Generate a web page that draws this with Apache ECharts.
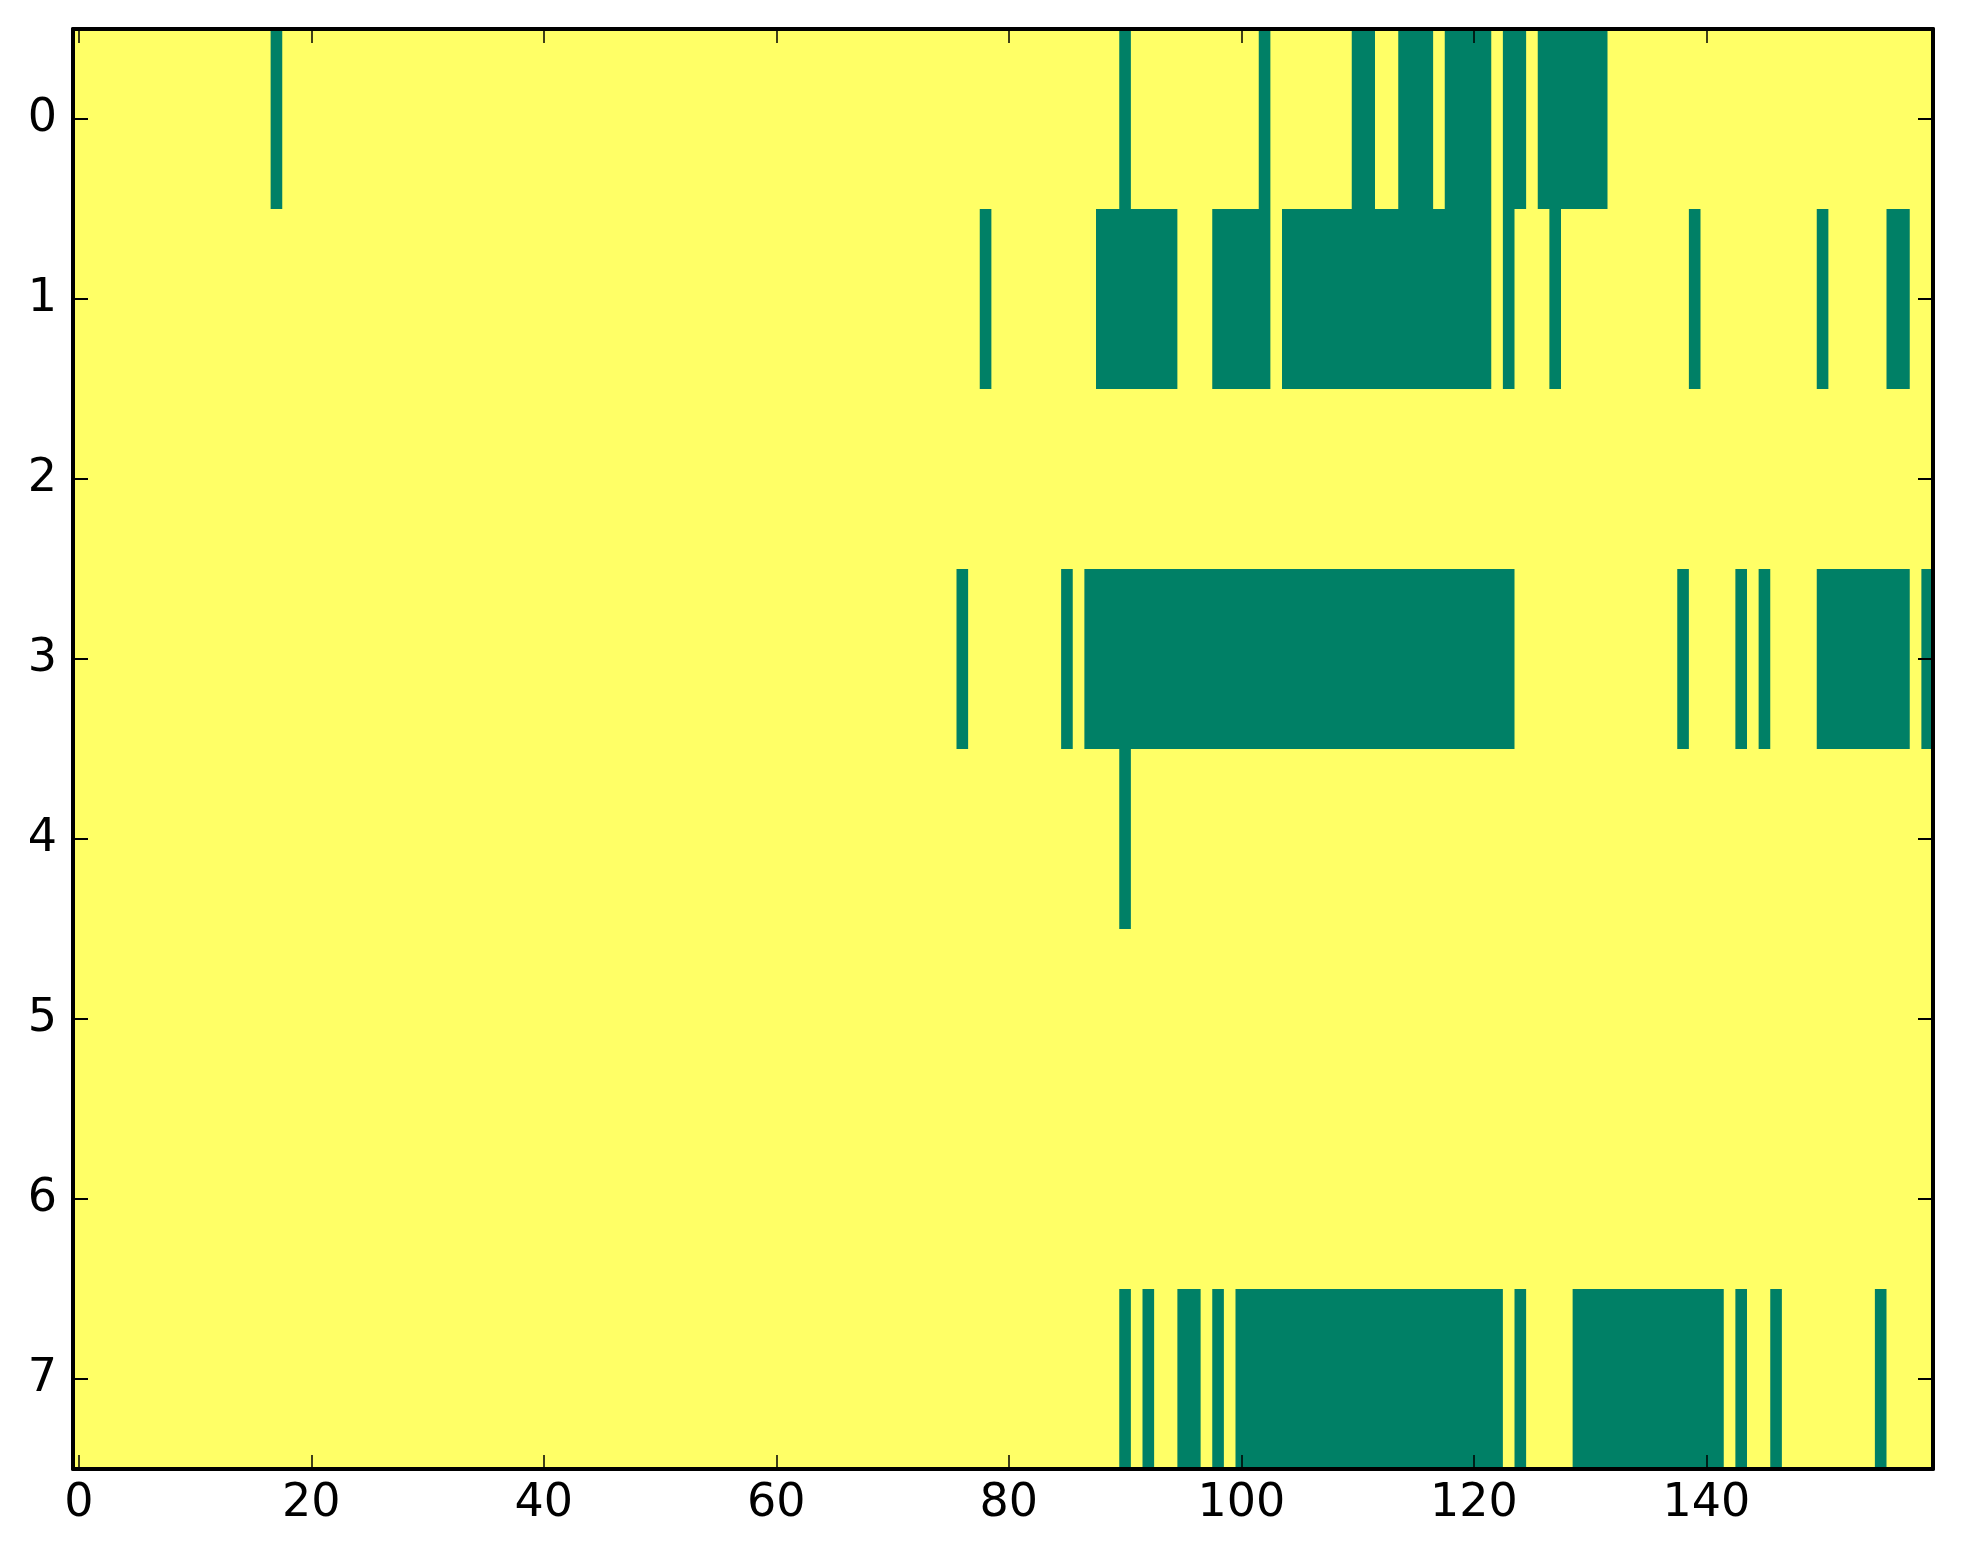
<!DOCTYPE html>
<html>
<head>
<meta charset="utf-8">
<title>binary matrix</title>
<script src="https://cdn.jsdelivr.net/npm/echarts@6/dist/echarts.min.js"></script>
<style>
  html, body { margin: 0; padding: 0; background: #fff; }
  #chart { width: 1963px; height: 1564px; }
</style>
</head>
<body>
<div id="chart"></div>
<script>
// green cells of each row, as [firstColumn, lastColumn] runs; everything else is yellow
var row0 = [[17, 17], [90, 90], [102, 102], [110, 111], [114, 116], [118, 121], [123, 124], [126, 131]];
var row1 = [[78, 78], [88, 94], [98, 102], [104, 121], [123, 123], [127, 127], [139, 139], [150, 150], [156, 157]];
var row2 = [];
var row3 = [[76, 76], [85, 85], [87, 123], [138, 138], [143, 143], [145, 145], [150, 157], [159, 159]];
var row4 = [[90, 90]];
var row5 = [];
var row6 = [];
var row7 = [[90, 90], [92, 92], [95, 96], [98, 98], [100, 122], [124, 124], [129, 141], [143, 143], [146, 146], [155, 155]];

var nCols = 160;
var rowLabels = ["0", "1", "2", "3", "4", "5", "6", "7"];
var xTickStep = 20;

(function() {
    var chart = echarts.init(document.getElementById("chart")),
        rows = [row0, row1, row2, row3, row4, row5, row6, row7],
        cols = [],
        runs = [],
        i;

    for (i = 0; i < nCols; i++) {
        cols.push(String(i));
    }
    rows.forEach(function(r, y) {
        r.forEach(function(run) {
            runs.push([run[0], run[1], y]);
        });
    });

    var font = {
        fontFamily: "DejaVu Sans",
        fontSize: 46,
        color: "#000"
    };
    var spine = { color: "#000", width: 4 };

    function everyTwenty(idx) {
        return idx % xTickStep === 0;
    }

    function xAxis(pos, labels) {
        return {
            type: "category",
            position: pos,
            data: cols,
            z: 10,
            boundaryGap: true,
            axisLine: { show: true, onZero: false, lineStyle: spine },
            axisTick: {
                show: true, inside: true, alignWithLabel: true, length: 14,
                interval: everyTwenty,
                lineStyle: { color: "#000", width: 1.5 }
            },
            axisLabel: Object.assign({ show: labels, interval: everyTwenty, margin: 12 }, font),
            splitLine: { show: false }
        };
    }

    function yAxis(pos, labels) {
        return {
            type: "category",
            position: pos,
            inverse: true,
            data: rowLabels,
            z: 10,
            boundaryGap: true,
            axisLine: { show: true, onZero: false, lineStyle: spine },
            axisTick: {
                show: true, inside: true, alignWithLabel: true, length: 15,
                lineStyle: { color: "#000", width: 2 }
            },
            axisLabel: Object.assign({ show: labels, margin: 16 }, font),
            splitLine: { show: false }
        };
    }

    var option = {
        animation: false,
        backgroundColor: "#fff",
        grid: {
            left: 73,
            top: 29,
            right: 30,
            bottom: 95,
            show: true,
            backgroundColor: "#ffff66",
            borderWidth: 0
        },
        xAxis: [xAxis("bottom", true), xAxis("top", false)],
        yAxis: [yAxis("left", true), yAxis("right", false)],
        series: [{
            type: "custom",
            xAxisIndex: 0,
            yAxisIndex: 0,
            encode: { x: [0, 1], y: 2 },
            data: runs,
            renderItem: function(params, api) {
                var a = api.coord([api.value(0), api.value(2)]),
                    b = api.coord([api.value(1), api.value(2)]),
                    size = api.size([1, 1]);
                return {
                    type: "rect",
                    shape: {
                        x: a[0] - size[0] / 2,
                        y: a[1] - size[1] / 2,
                        width: b[0] - a[0] + size[0],
                        height: size[1]
                    },
                    style: { fill: "#008066" }
                };
            }
        }]
    };

    chart.setOption(option);
}());
</script>
</body>
</html>
